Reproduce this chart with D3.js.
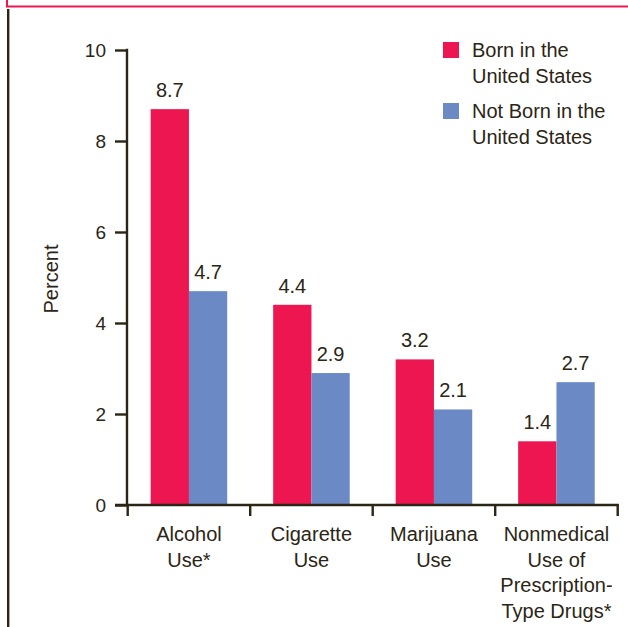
<!DOCTYPE html>
<html>
<head>
<meta charset="utf-8">
<script src="https://cdn.jsdelivr.net/npm/d3@7"></script>
<style>
  html, body { margin: 0; padding: 0; background: #fff; }
  svg { display: block; font-family: "Liberation Sans", Arial, Helvetica, sans-serif; }
</style>
</head>
<body>
<svg id="chart" width="628" height="627"></svg>
<script>
// Past-month substance use by nativity
const categories = [
  ["Alcohol", "Use*"],
  ["Cigarette", "Use"],
  ["Marijuana", "Use"],
  ["Nonmedical", "Use of", "Prescription-", "Type Drugs*"]
];
const seriesNames = ["Born in the United States", "Not Born in the United States"];
const legendLines = [["Born in the", "United States"], ["Not Born in the", "United States"]];
const bornUS = [8.7, 4.4, 3.2, 1.4];
const notBornUS = [4.7, 2.9, 2.1, 2.7];
const yTicks = [0, 2, 4, 6, 8, 10];

const colors = ["#EE1651", "#6B8AC5"];
const ink = "#2B2515";

const svg = d3.select("#chart");

// Frame: red rule along the top, dark rule down the left side
svg.append("rect").attr("x", 7).attr("y", -10).attr("width", 640).attr("height", 16.5)
  .attr("fill", "none").attr("stroke", "#EE1651").attr("stroke-width", 2);
svg.append("line").attr("x1", 8.2).attr("x2", 8.2).attr("y1", 9).attr("y2", 627)
  .attr("stroke", ink).attr("stroke-width", 2.4);

const keys = categories.map((c, i) => i);
const x = d3.scaleBand().domain(keys).range([127.7, 617.7]).padding(0);
const x1 = d3.scaleBand().domain([0, 1]).range([0, x.bandwidth()]).paddingInner(0).paddingOuter(0.6);
const y = d3.scaleLinear().domain([0, 10]).range([505, 50]);

const rows = keys.map(i => ({ i, values: [bornUS[i], notBornUS[i]] }));

// Bars
const groups = svg.append("g").selectAll("g").data(rows).join("g")
  .attr("transform", d => `translate(${x(d.i)},0)`);
groups.selectAll("rect").data(d => d.values.map((v, s) => ({ v, s }))).join("rect")
  .attr("x", d => x1(d.s))
  .attr("width", x1.bandwidth())
  .attr("y", d => y(d.v))
  .attr("height", d => y(0) - y(d.v))
  .attr("fill", d => colors[d.s]);

// Value labels
groups.selectAll("text").data(d => d.values.map((v, s) => ({ v, s }))).join("text")
  .attr("x", d => x1(d.s) + x1.bandwidth() / 2)
  .attr("y", d => y(d.v) - 12)
  .attr("text-anchor", "middle")
  .attr("font-size", 20)
  .attr("fill", ink)
  .text(d => d3.format(".1f")(d.v));

// Y axis
const yAxis = svg.append("g").attr("transform", "translate(127,0)")
  .call(d3.axisLeft(y).tickValues(yTicks).tickSize(12).tickPadding(9).tickFormat(d3.format("d")));
yAxis.select(".domain").remove();
yAxis.selectAll(".tick line").attr("stroke", ink).attr("stroke-width", 2.4);
yAxis.selectAll(".tick text").attr("font-size", 19).attr("fill", ink)
  .attr("font-family", "Liberation Sans, Arial, sans-serif").attr("dy", "0.36em");
svg.append("line").attr("x1", 127).attr("x2", 127).attr("y1", y(10) - 1.2).attr("y2", y(0))
  .attr("stroke", ink).attr("stroke-width", 2.4);

// X axis: baseline with ticks at category boundaries
const bounds = keys.map(i => x(i)).concat([x(keys[keys.length - 1]) + x.bandwidth()]);
svg.append("line").attr("x1", 115).attr("x2", bounds[bounds.length - 1] + 1.2)
  .attr("y1", y(0)).attr("y2", y(0)).attr("stroke", ink).attr("stroke-width", 2.4);
svg.append("g").selectAll("line").data(bounds).join("line")
  .attr("x1", d => d).attr("x2", d => d)
  .attr("y1", y(0)).attr("y2", y(0) + 11)
  .attr("stroke", ink).attr("stroke-width", 2.4);

// Category labels
svg.append("g").selectAll("text").data(rows).join("text")
  .attr("x", d => x(d.i) + x.bandwidth() / 2)
  .attr("y", 541)
  .attr("text-anchor", "middle")
  .attr("font-size", 20)
  .attr("fill", ink)
  .selectAll("tspan").data(d => categories[d.i]).join("tspan")
  .attr("x", function () { return d3.select(this.parentNode).attr("x"); })
  .attr("dy", (d, k) => k === 0 ? 0 : 25.5)
  .text(d => d);

// Y axis title
svg.append("text")
  .attr("transform", "translate(57.5,279) rotate(-90)")
  .attr("text-anchor", "middle")
  .attr("font-size", 20)
  .attr("fill", ink)
  .text("Percent");

// Legend
const legend = svg.append("g").selectAll("g").data(seriesNames).join("g")
  .attr("transform", (d, i) => `translate(443,${42 + i * 61})`);
legend.append("rect").attr("width", 16).attr("height", 16).attr("fill", (d, i) => colors[i]);
legend.append("text")
  .attr("x", 29).attr("y", 15)
  .attr("font-size", 20).attr("fill", ink)
  .selectAll("tspan").data((d, i) => legendLines[i]).join("tspan")
  .attr("x", 29)
  .attr("dy", (d, k) => k === 0 ? 0 : 25.5)
  .text(d => d);
</script>
</body>
</html>
